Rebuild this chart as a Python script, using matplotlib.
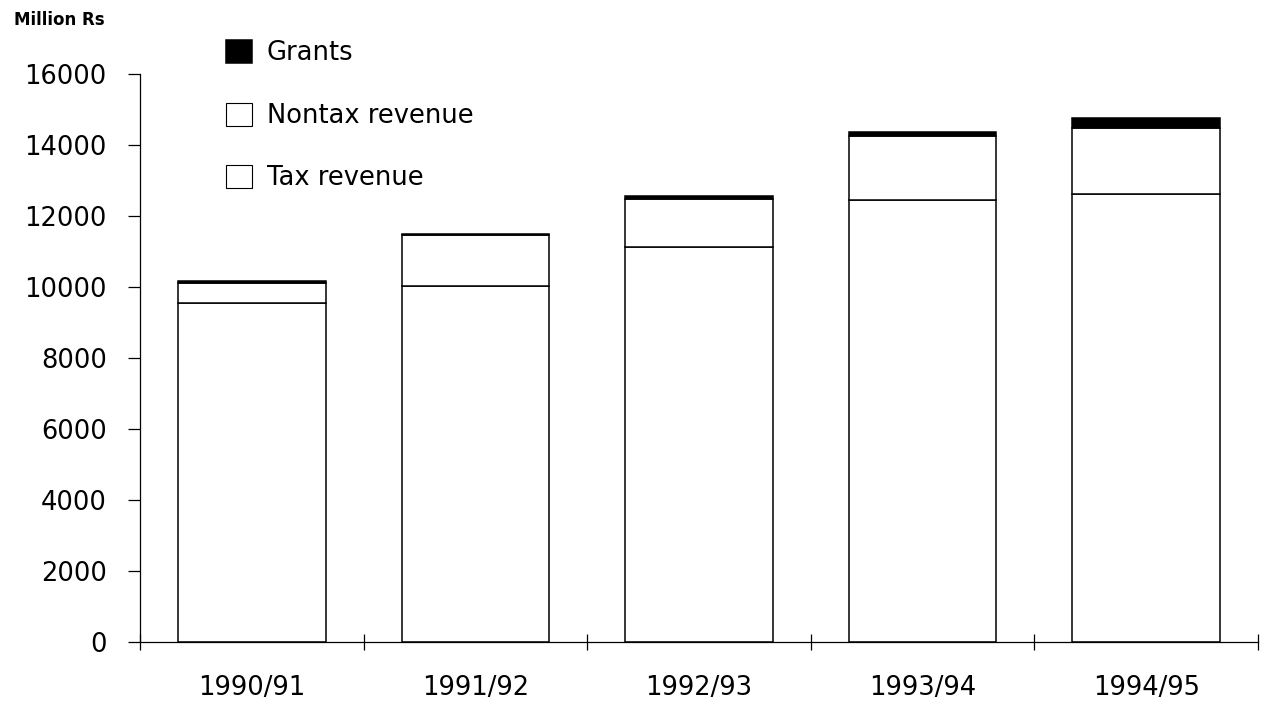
import matplotlib
matplotlib.use("Agg")
import matplotlib.pyplot as plt
import numpy as np

# revenue by fiscal year, million Rs
years = ["1990/91", "1991/92", "1992/93", "1993/94", "1994/95"]
tax_revenue = [9550, 10030, 11130, 12450, 12620]
nontax_revenue = [570, 1430, 1350, 1800, 1860]
grants = [50, 30, 80, 110, 280]

plt.rcParams["font.family"] = ["DejaVu Sans"]

fig = plt.figure(figsize=(12.63, 7.02), dpi=100)
ax = fig.add_axes([140 / 1263, 60 / 702, 1118 / 1263, 568 / 702])

x = np.arange(len(years))
w = 0.66
tax = np.array(tax_revenue)
nontax = np.array(nontax_revenue)
gr = np.array(grants)

b_tax = ax.bar(x, tax, w, color="white", edgecolor="black", linewidth=1.1,
               label="Tax revenue")
b_non = ax.bar(x, nontax, w, bottom=tax, color="white", edgecolor="black",
               linewidth=1.1, label="Nontax revenue")
b_gr = ax.bar(x, gr, w, bottom=tax + nontax, color="black", edgecolor="black",
              linewidth=1.1, label="Grants")

ax.set_xlim(-0.5, len(years) - 0.5)
ax.set_ylim(0, 16000)

for s in ["top", "right"]:
    ax.spines[s].set_visible(False)
ax.spines["left"].set_linewidth(0.9)
ax.spines["bottom"].set_linewidth(0.9)

ax.set_yticks(np.arange(0, 16001, 2000))
ax.tick_params(axis="y", direction="out", length=9, width=0.9, pad=15,
               labelsize=18.5)

# boundary ticks on x, labels at centers
ax.set_xticks(np.arange(-0.5, len(years), 1.0))
ax.set_xticklabels([])
ax.tick_params(axis="x", which="major", direction="inout", length=11.5,
               width=0.9)
ax.set_xticks(x, minor=True)
ax.set_xticklabels(years, minor=True)
ax.tick_params(axis="x", which="minor", length=0, pad=24, labelsize=18.5)

fig.text(14 / 1263, 1 - 20 / 702, "Million Rs", fontsize=12, fontweight="bold",
         va="center", ha="left")

leg = fig.legend(handles=[b_gr, b_non, b_tax],
                 labels=["Grants", "Nontax revenue", "Tax revenue"],
                 loc="upper left", bbox_to_anchor=(226 / 1263, 1 - 40 / 702),
                 frameon=False, fontsize=18.5, handlelength=1.0,
                 handleheight=1.0, handletextpad=0.58, labelspacing=1.41,
                 borderpad=0, borderaxespad=0)
for h in leg.legend_handles[1:]:
    h.set_linewidth(0.8)

fig.savefig("out.png", dpi=100)
